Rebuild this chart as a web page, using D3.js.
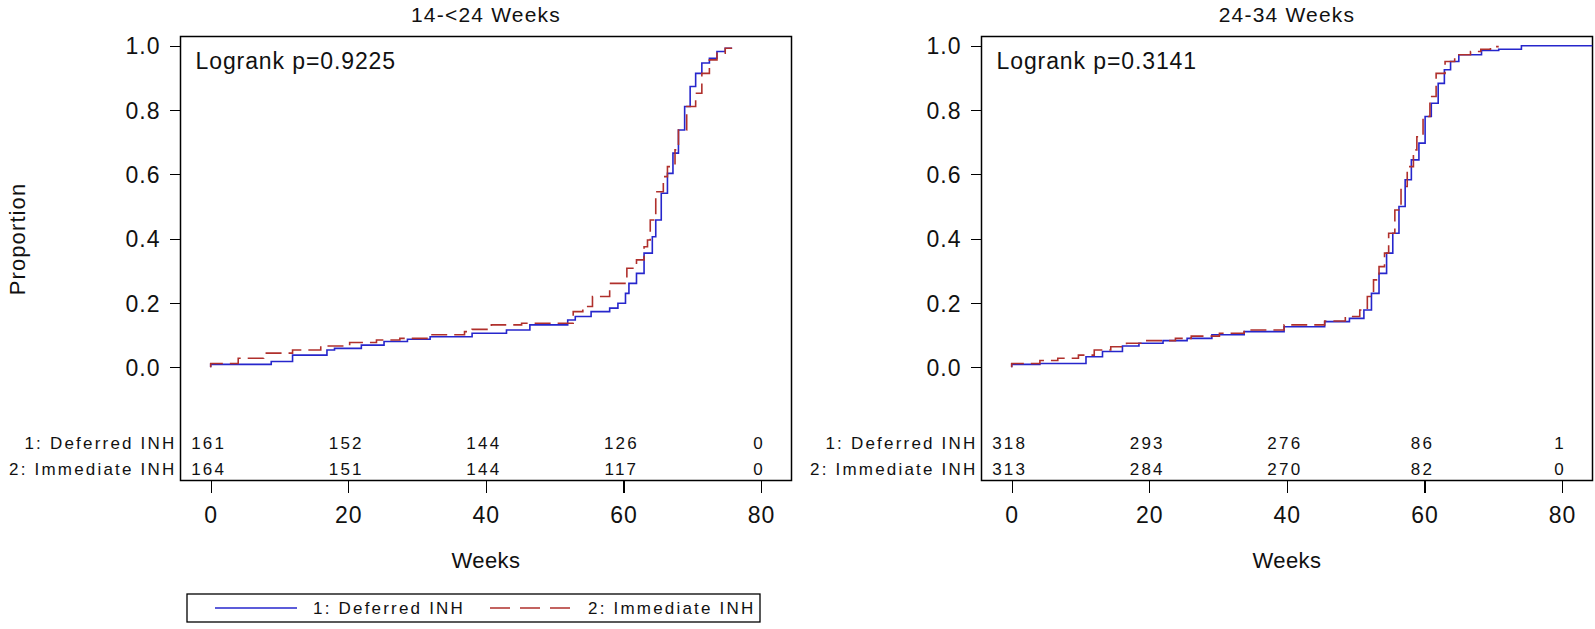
<!DOCTYPE html>
<meta charset="utf-8">
<style>
body {
  margin: 0;
  background-color: white;
}
svg {
  font-family: "Liberation Sans", Arial, sans-serif;
}
.tick line {
  stroke: black;
  stroke-width: 1.3px;
  shape-rendering: crispEdges;
}
.tick text {
  font-size: 23px;
  letter-spacing: 1px;
  fill: #111;
}
.risk {
  font-size: 17px;
  letter-spacing: 2.2px;
  fill: #111;
}
</style>

<script src="https://d3js.org/d3.v7.min.js"></script>

<body>
<script>

// shared tick values and group names
var weekTicks = [0, 20, 40, 60, 80];
var propTicks = [0, 0.2, 0.4, 0.6, 0.8, 1.0];
var groups = ["1: Deferred INH", "2: Immediate INH"];

// panel 1: 14-<24 weeks
var p1Title = "14-<24 Weeks";
var p1Logrank = "Logrank p=0.9225";
var p1DefWeeks = [0, 0, 8.8, 11.9, 16.9, 18.0, 21.9, 25.2, 28.6, 31.9, 38.0, 43.0, 46.4, 51.9, 53.0, 55.3, 58.0, 59.2, 60.3, 60.8, 61.9, 63.0, 64.2, 64.7, 65.5, 66.4, 67.2, 68.0, 68.9, 69.7, 70.5, 71.4, 72.5, 73.6, 74.8, 75.8];
var p1DefProp  = [0, 0.009, 0.018, 0.038, 0.054, 0.059, 0.069, 0.080, 0.087, 0.095, 0.106, 0.116, 0.132, 0.147, 0.158, 0.173, 0.184, 0.199, 0.230, 0.261, 0.292, 0.355, 0.406, 0.458, 0.541, 0.603, 0.666, 0.738, 0.811, 0.873, 0.914, 0.946, 0.961, 0.982, 0.992, 0.992];
var p1ImmWeeks = [0, 0, 4.0, 7.7, 11.9, 16.0, 20.2, 24.1, 27.5, 31.9, 36.9, 38.0, 40.8, 45.2, 52.7, 54.1, 55.5, 58.0, 60.5, 61.9, 63.0, 63.5, 63.9, 64.7, 65.8, 66.4, 67.5, 68.0, 69.2, 70.5, 71.4, 72.5, 73.6, 74.8, 75.8];
var p1ImmProp  = [0, 0.012, 0.028, 0.044, 0.054, 0.066, 0.077, 0.085, 0.090, 0.101, 0.111, 0.118, 0.132, 0.137, 0.173, 0.189, 0.220, 0.261, 0.308, 0.334, 0.375, 0.396, 0.458, 0.546, 0.593, 0.624, 0.676, 0.738, 0.811, 0.852, 0.914, 0.956, 0.977, 0.992, 0.992];
var p1DefRisk = [161, 152, 144, 126, 0];
var p1ImmRisk = [164, 151, 144, 117, 0];

// panel 2: 24-34 weeks
var p2Title = "24-34 Weeks";
var p2Logrank = "Logrank p=0.3141";
var p2DefWeeks = [0, 0, 4.1, 10.8, 13.2, 16.1, 18.5, 22.0, 25.5, 29.1, 33.8, 39.6, 45.5, 49.1, 51.2, 52.3, 53.4, 54.5, 55.4, 56.3, 57.2, 58.1, 59.2, 60.1, 61.0, 62.0, 62.9, 63.8, 65.0, 68.3, 70.8, 74.1, 84.4];
var p2DefProp  = [0, 0.009, 0.012, 0.033, 0.049, 0.066, 0.075, 0.083, 0.090, 0.101, 0.111, 0.126, 0.142, 0.152, 0.178, 0.230, 0.292, 0.355, 0.417, 0.500, 0.583, 0.645, 0.697, 0.780, 0.821, 0.883, 0.925, 0.951, 0.972, 0.985, 0.989, 1.0, 1.0];
var p2ImmWeeks = [0, 0, 4.1, 6.7, 9.7, 12.0, 14.4, 16.7, 19.1, 23.8, 26.1, 30.2, 33.8, 39.6, 45.5, 48.5, 50.6, 51.7, 52.6, 53.4, 54.2, 54.8, 55.7, 56.6, 57.5, 58.4, 58.9, 59.8, 60.8, 61.7, 63.0, 64.4, 66.7, 68.2, 69.6, 70.8];
var p2ImmProp  = [0, 0.012, 0.021, 0.028, 0.038, 0.054, 0.064, 0.075, 0.083, 0.090, 0.097, 0.106, 0.116, 0.132, 0.144, 0.158, 0.178, 0.220, 0.272, 0.313, 0.355, 0.417, 0.489, 0.562, 0.624, 0.676, 0.717, 0.780, 0.842, 0.914, 0.951, 0.972, 0.982, 0.989, 0.997, 0.997];
var p2DefRisk = [318, 293, 276, 86, 1];
var p2ImmRisk = [313, 284, 270, 82, 0];

var blue = "#2626cc",
    red = "#b0302c";

var svg = d3.select("body").append("svg")
    .attr("width", 1595)
    .attr("height", 629)
    .style("background", "white");

//box of each panel (plot area plus at-risk table)
var boxTop = 36.5, boxBottom = 480.5, boxWidth = 611;

var y = d3.scaleLinear()
    .domain([0, 1])
    .range([367.3, 45.7]);

function drawPanel(left, title, logrank, series, risks) {
  var x = d3.scaleLinear()
      .domain([0, 80])
      .range([left + 30.2, left + 580.5]);

  var g = svg.append("g");

  g.append("rect")
      .attr("x", left)
      .attr("y", boxTop)
      .attr("width", boxWidth)
      .attr("height", boxBottom - boxTop)
      .attr("fill", "none")
      .attr("stroke", "black")
      .attr("stroke-width", 1.5);

  g.append("text")
      .attr("x", left + boxWidth / 2)
      .attr("y", 22)
      .attr("text-anchor", "middle")
      .style("font-size", "21px")
      .style("letter-spacing", "1.2px")
      .attr("fill", "#111")
      .text(title);

  g.append("text")
      .attr("x", left + 15)
      .attr("y", 69)
      .style("font-size", "23px")
      .style("letter-spacing", "0.9px")
      .attr("fill", "#111")
      .text(logrank);

  //y axis
  g.append("g")
      .attr("transform", "translate(" + left + ",0)")
      .call(d3.axisLeft(y).tickValues(propTicks).tickFormat(d3.format(".1f")).tickSize(11).tickPadding(9))
      .call(function(a) { a.select(".domain").remove(); })
      .selectAll("text").attr("dy", "0.36em");

  //x axis under the box
  g.append("g")
      .attr("transform", "translate(0," + boxBottom + ")")
      .call(d3.axisBottom(x).tickValues(weekTicks).tickSize(12).tickPadding(14))
      .call(function(a) { a.select(".domain").remove(); });

  g.append("text")
      .attr("x", left + boxWidth / 2)
      .attr("y", 568)
      .attr("text-anchor", "middle")
      .style("font-size", "22px")
      .style("letter-spacing", "0.4px")
      .attr("fill", "#111")
      .text("Weeks");

  //survival step curves
  var line = d3.line()
      .curve(d3.curveStepAfter)
      .x(function(d) { return x(d[0]); })
      .y(function(d) { return y(d[1]); });

  series.forEach(function(s) {
    var pts = s.weeks.map(function(w, i) { return [w, s.prop[i]]; });
    g.append("path")
        .datum(pts)
        .attr("d", line)
        .attr("fill", "none")
        .attr("stroke", s.color)
        .attr("stroke-width", 1.6)
        .attr("stroke-dasharray", s.dash);
  });

  //numbers at risk
  var rowY = [449, 475];
  risks.forEach(function(r, i) {
    g.append("text")
        .attr("class", "risk")
        .attr("x", left - 4)
        .attr("y", rowY[i])
        .attr("text-anchor", "end")
        .text(groups[i]);

    g.selectAll(".n" + i)
        .data(r)
      .enter().append("text")
        .attr("class", "risk n" + i)
        .attr("x", function(d, j) { return x(weekTicks[j]) - 2; })
        .attr("y", rowY[i])
        .attr("text-anchor", "middle")
        .text(function(d) { return d; });
  });
}

drawPanel(180.5, p1Title, p1Logrank,
  [{weeks: p1DefWeeks, prop: p1DefProp, color: blue, dash: null},
   {weeks: p1ImmWeeks, prop: p1ImmProp, color: red, dash: "16,7"}],
  [p1DefRisk, p1ImmRisk]);

drawPanel(981.5, p2Title, p2Logrank,
  [{weeks: p2DefWeeks, prop: p2DefProp, color: blue, dash: null},
   {weeks: p2ImmWeeks, prop: p2ImmProp, color: red, dash: "16,7"}],
  [p2DefRisk, p2ImmRisk]);

//y axis label
svg.append("text")
    .attr("transform", "translate(25,239) rotate(-90)")
    .attr("text-anchor", "middle")
    .style("font-size", "22px")
    .style("letter-spacing", "1.1px")
    .attr("fill", "#111")
    .text("Proportion");

//legend
var legend = svg.append("g").attr("transform", "translate(187,594)");
legend.append("rect")
    .attr("width", 573)
    .attr("height", 28)
    .attr("fill", "none")
    .attr("stroke", "black")
    .attr("stroke-width", 1.3);

var legendItems = [
  {name: groups[0], color: blue, dash: null, x: 28},
  {name: groups[1], color: red, dash: "20,10", x: 303}
];
legendItems.forEach(function(d) {
  legend.append("line")
      .attr("x1", d.x).attr("x2", d.x + 82)
      .attr("y1", 14).attr("y2", 14)
      .attr("stroke", d.color)
      .attr("stroke-width", 1.6)
      .attr("stroke-dasharray", d.dash);
  legend.append("text")
      .attr("class", "risk")
      .attr("x", d.x + 98)
      .attr("y", 20)
      .text(d.name);
});

</script>
